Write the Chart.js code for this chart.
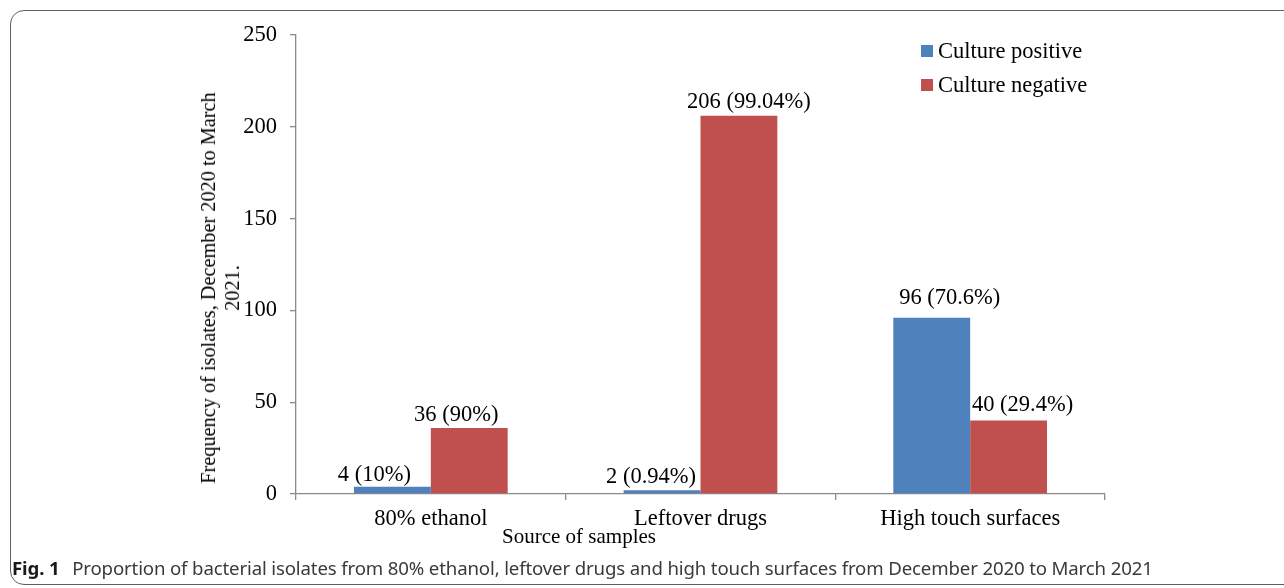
<!DOCTYPE html>
<html>
<head>
<meta charset="utf-8">
<script src="https://cdn.jsdelivr.net/npm/chart.js@4.4.1/dist/chart.umd.min.js"></script>
<style>
  html, body { margin: 0; padding: 0; background: #fff; overflow: hidden; }
  #page { position: relative; width: 1284px; height: 588px; overflow: hidden; }
  #frame {
    position: absolute; left: 10px; top: 10px; width: 1320px; height: 575px;
    border: 1.5px solid #5e5e5e; border-radius: 14px; box-sizing: border-box;
  }
  #wrap { position: absolute; left: 0; top: 0; width: 1284px; height: 588px; }
  #chart { display: block; width: 1284px; height: 588px; }
  .serif { font-family: "Liberation Serif", "Times New Roman", serif; color: #000; }
  #legend { position: absolute; left: 921px; top: 34px; font-size: 22.5px; }
  #legend div { display: flex; align-items: center; height: 34px; }
  #legend span.box { display: inline-block; width: 12px; height: 12px; margin-right: 5px; }
  #xTitle { position: absolute; left: 502px; top: 524px; font-size: 21px; line-height: 24px; white-space: nowrap; }
  #yTitle {
    position: absolute; left: 220px; top: 288px; font-size: 20.3px; line-height: 24px;
    white-space: nowrap; text-align: center; transform: translate(-50%, -50%) rotate(-90deg);
  }
  #caption {
    position: absolute; left: 12px; top: 555px; font-family: "Noto Sans", sans-serif;
    font-size: 18.65px; color: #3a3a3a; white-space: nowrap; letter-spacing: -0.15px;
  }
  #caption b { color: #1a1a1a; margin-right: 8px; }
</style>
</head>
<body>
<div id="page">
  <div id="frame"></div>
  <div id="wrap"><canvas id="chart" width="1284" height="588"></canvas></div>
  <div id="legend" class="serif"></div>
  <div id="yTitle" class="serif">Frequency of isolates, December 2020 to March<br>2021.</div>
  <div id="xTitle" class="serif">Source of samples</div>
  <div id="caption"><b>Fig. 1</b> Proportion of bacterial isolates from 80% ethanol, leftover drugs and high touch surfaces from December 2020 to March 2021</div>
</div>
<script>
const categories = ["80% ethanol", "Leftover drugs", "High touch surfaces"];
const seriesNames = ["Culture positive", "Culture negative"];
const positiveCounts = [4, 2, 96];
const negativeCounts = [36, 206, 40];
const positiveLabels = ["4 (10%)", "2 (0.94%)", "96 (70.6%)"];
const negativeLabels = ["36 (90%)", "206 (99.04%)", "40 (29.4%)"];
const yMin = 0;
const yMax = 250;
const yStep = 50;

const serif = "'Liberation Serif', 'Times New Roman', serif";

// labels sit a little off-centre in the original figure: [dx, gap above bar]
const labelShift = [
  [[-18, 6], [-11, 7], [18, 14]],
  [[-13, 7], [10, 8], [14, 10]],
];

const barLabels = {
  id: "barLabels",
  afterDatasetsDraw(chart) {
    const ctx = chart.ctx;
    const texts = [positiveLabels, negativeLabels];
    ctx.save();
    ctx.font = "22.5px " + serif;
    ctx.fillStyle = "#000";
    ctx.textAlign = "center";
    ctx.textBaseline = "alphabetic";
    chart.data.datasets.forEach((ds, di) => {
      chart.getDatasetMeta(di).data.forEach((bar, i) => {
        const [dx, gap] = labelShift[di][i];
        ctx.fillText(texts[di][i], bar.x + dx, bar.y - gap);
      });
    });
    ctx.restore();
  },
};

const chart = new Chart(document.getElementById("chart"), {
  type: "bar",
  data: {
    labels: categories,
    datasets: [
      { label: seriesNames[0], data: positiveCounts, backgroundColor: "#4F81BD" },
      { label: seriesNames[1], data: negativeCounts, backgroundColor: "#C0504D" },
    ],
  },
  options: {
    responsive: false,
    animation: false,
    devicePixelRatio: 1,
    layout: { padding: { left: 236, top: 35, right: 179, bottom: 54 } },
    datasets: { bar: { categoryPercentage: 0.57, barPercentage: 1 } },
    plugins: { legend: { display: false }, tooltip: { enabled: false } },
    scales: {
      x: {
        afterFit: (s) => { s.height = 40; },
        grid: { offset: true, drawOnChartArea: false, tickLength: 6, color: "#8a8a8a", lineWidth: 1.3 },
        border: { color: "#8a8a8a", width: 1.3 },
        ticks: { color: "#000", font: { family: serif, size: 22.5 }, padding: 6 },
      },
      y: {
        min: yMin,
        max: yMax,
        afterFit: (s) => { s.width = 60; },
        grid: { drawOnChartArea: false, tickLength: 6, color: "#8a8a8a", lineWidth: 1.3 },
        border: { color: "#8a8a8a", width: 1.3 },
        ticks: { stepSize: yStep, color: "#000", font: { family: serif, size: 22.5 }, padding: 13 },
      },
    },
  },
  plugins: [barLabels],
});

// legend stacked at the top right, built from the datasets
const legend = document.getElementById("legend");
chart.data.datasets.forEach((ds) => {
  const row = document.createElement("div");
  row.innerHTML = '<span class="box" style="background:' + ds.backgroundColor + '"></span>' + ds.label;
  legend.appendChild(row);
});
</script>
</body>
</html>
